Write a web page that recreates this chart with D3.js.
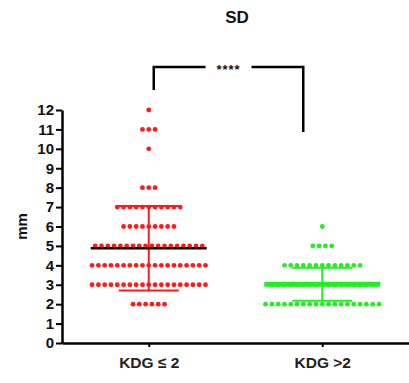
<!DOCTYPE html>
<html>
<head>
<meta charset="utf-8">
<script src="https://cdn.jsdelivr.net/npm/d3@7"></script>
<style>
  body { margin: 0; background: #fff; }
  text { font-family: "Liberation Sans", Arial, sans-serif; font-weight: bold; }
</style>
</head>
<body>
<div id="chart"></div>
<script>
// categories and values
const groups = ['KDG \u2264 2', 'KDG >2'];
const colors = ['#ff1a1a', '#22ee22'];

// value levels and how many dots sit on each level
const lowLevels = [2, 3, 4, 5, 6, 7, 8, 10, 11, 12];
const lowCounts = [6, 19, 19, 18, 9, 11, 3, 1, 3, 1];
const highLevels = [2, 3, 4, 5, 6];
const highCounts = [19, 17, 13, 4, 1];

// mean and SD as drawn
const means = [4.88, 3.03];
const sds = [2.17, 0.85];

const yTicks = [0, 1, 2, 3, 4, 5, 6, 7, 8, 9, 10, 11, 12];

let width = 409, height = 383;
let margin = { top: 110, right: 0, bottom: 40, left: 62 };

let svg = d3.select('#chart')
    .append('svg')
    .attr('width', width)
    .attr('height', height);

let x = d3.scalePoint()
    .domain(groups)
    .range([margin.left, width - margin.right])
    .padding(0.5);

let y = d3.scaleLinear()
    .domain([0, 12])
    .range([height - margin.bottom, margin.top]);

// dots, spread in rows around the group centre
let step = 6.3;
let dots = [];
[[lowLevels, lowCounts], [highLevels, highCounts]].forEach((g, gi) => {
    g[0].forEach((v, i) => {
        let n = g[1][i];
        for (let k = 0; k < n; k++) {
            dots.push({ g: gi, v: v, off: (k - (n - 1) / 2) * step });
        }
    });
});

svg.append('g')
    .selectAll('circle').data(dots).enter().append('circle')
    .attr('cx', d => x(groups[d.g]) + d.off)
    .attr('cy', d => y(d.v))
    .attr('r', 2.4)
    .attr('fill', d => colors[d.g]);

// error bars
let bars = svg.append('g');
groups.forEach((name, i) => {
    let cx = x(name);
    let top = means[i] + sds[i], bot = means[i] - sds[i];
    bars.append('line')
        .attr('x1', cx).attr('x2', cx)
        .attr('y1', y(top)).attr('y2', y(bot))
        .attr('stroke', colors[i]).attr('stroke-width', 2);
    [top, bot].forEach(v => {
        bars.append('line')
            .attr('x1', cx - 30).attr('x2', cx + 30)
            .attr('y1', y(v)).attr('y2', y(v))
            .attr('stroke', colors[i]).attr('stroke-width', 2);
    });
    bars.append('line')
        .attr('x1', cx - 58).attr('x2', cx + 58)
        .attr('y1', y(means[i])).attr('y2', y(means[i]))
        .attr('stroke', i === 0 ? '#000' : colors[i])
        .attr('stroke-width', i === 0 ? 2.5 : 5);
});

// axes
let yAxis = svg.append('g')
    .attr('transform', `translate(${margin.left},0)`)
    .call(d3.axisLeft(y).tickValues(yTicks).tickSize(6).tickSizeOuter(0).tickPadding(2));
yAxis.select('.domain').attr('stroke-width', 2.5);
yAxis.selectAll('.tick line').attr('stroke-width', 2);
yAxis.selectAll('.tick text').attr('font-size', 15).attr('fill', '#111');

let xAxis = svg.append('g')
    .attr('transform', `translate(0,${y(0)})`)
    .call(d3.axisBottom(x).tickSize(4).tickSizeOuter(0).tickPadding(10));
xAxis.select('.domain').attr('stroke-width', 2.5);
xAxis.selectAll('.tick line').attr('stroke-width', 2);
xAxis.selectAll('.tick text').attr('font-size', 15.5).attr('fill', '#222');

svg.append('text')
    .attr('transform', `translate(27,${(y(0) + y(12)) / 2}) rotate(-90)`)
    .attr('text-anchor', 'middle')
    .attr('font-size', 15)
    .attr('fill', '#111')
    .text('mm');

svg.append('text')
    .attr('x', 237).attr('y', 23)
    .attr('text-anchor', 'middle')
    .attr('font-size', 17)
    .attr('fill', '#111')
    .text('SD');

// significance bracket
let bx1 = x(groups[0]) + 5, bx2 = x(groups[1]) - 19, by = 67;
let bmid = (bx1 + bx2) / 2;
let br = svg.append('g').attr('fill', 'none').attr('stroke', '#000').attr('stroke-width', 2.5);
br.append('path').attr('d', `M${bx1},${by + 23}V${by}H${bmid - 23}`);
br.append('path').attr('d', `M${bmid + 23},${by}H${bx2}V${by + 65}`);
svg.append('text')
    .attr('x', bmid).attr('y', by + 7)
    .attr('text-anchor', 'middle')
    .attr('font-size', 13)
    .attr('letter-spacing', 1)
    .attr('fill', '#111')
    .text('****');
</script>
</body>
</html>
